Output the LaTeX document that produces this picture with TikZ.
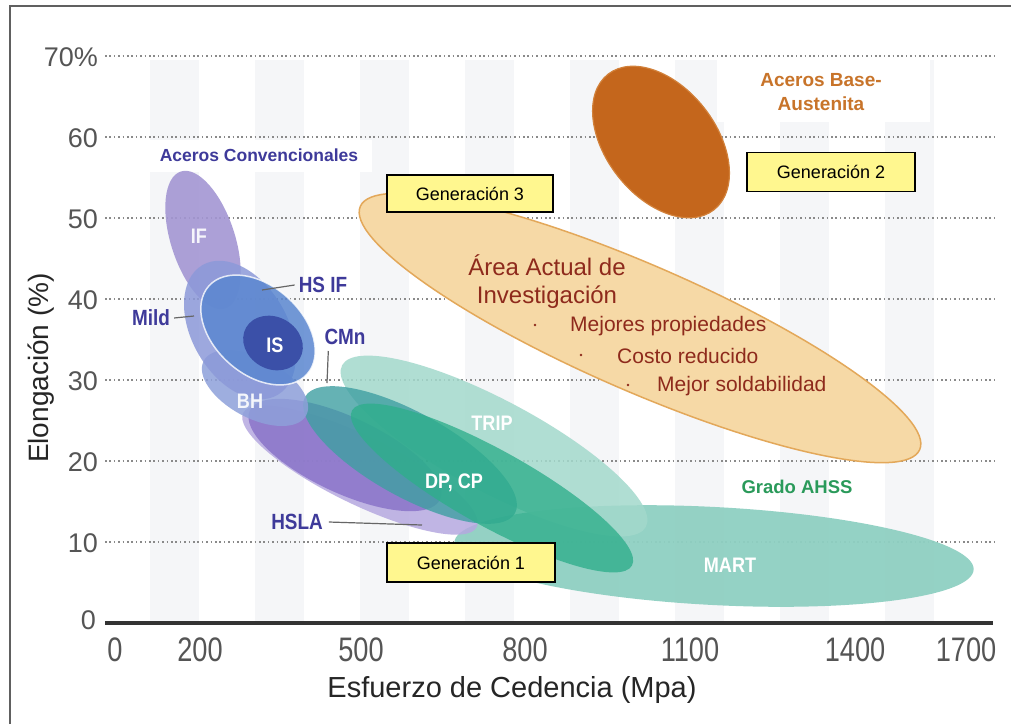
\documentclass[tikz,border=0pt]{standalone}
\usepackage{fontspec}
\setmainfont{Liberation Sans}
\newfontfamily\condf[FakeStretch=0.86]{Liberation Sans}
\newfontfamily\xtickf[FakeStretch=0.8]{Liberation Sans}
\definecolor{stripec}{HTML}{F5F6F8}
\definecolor{gridc}{HTML}{8A8A8A}
\definecolor{tickc}{HTML}{555555}
\definecolor{tanfill}{HTML}{F6D9A6}
\definecolor{tanline}{HTML}{E3A85A}
\definecolor{brownfill}{HTML}{C4661C}
\definecolor{brownline}{HTML}{D2813A}
\definecolor{martc}{HTML}{8FD0C2}
\definecolor{tripc}{HTML}{A3D9CC}
\definecolor{cpc}{HTML}{2EAE8B}
\definecolor{dpc}{HTML}{3F9FA2}
\definecolor{hslac}{HTML}{8A74C9}
\definecolor{cmnc}{HTML}{B6A9E0}
\definecolor{ifc}{HTML}{A396D3}
\definecolor{mildc}{HTML}{8C99D9}
\definecolor{bhc}{HTML}{8EA0DA}
\definecolor{hsifc}{HTML}{5B87D0}
\definecolor{isc}{HTML}{3B50A8}
\definecolor{labblue}{HTML}{3E3A9A}
\definecolor{redtext}{HTML}{8E2A1C}
\definecolor{orangetext}{HTML}{C8742A}
\definecolor{greentext}{HTML}{2A9A5A}
\definecolor{genyellow}{HTML}{FFF78F}
\newcommand\myell[6]{\fill[#1, rotate around={#6:(#2,#3)}] (#2,#3) ellipse ({#4pt} and {#5pt});}
\tikzset{
  gridline/.style={gridc, line width=1.6pt, dash pattern=on 1.6pt off 2.8pt},
  ytick/.style={anchor=east, text=tickc, font=\fontsize{27}{30}\selectfont, inner sep=0pt},
  xtick/.style={text=tickc, font=\xtickf\fontsize{34}{38}\selectfont, inner sep=0pt},
  genbox/.style={draw=black, line width=1.5pt, fill=genyellow, inner sep=0pt, font=\fontsize{18}{22}\selectfont},
  bluelab/.style={text=labblue, font=\condf\bfseries\fontsize{22}{26}\selectfont, inner sep=0pt},
  whitelab/.style={text=white, font=\condf\bfseries\fontsize{21}{25}\selectfont, inner sep=0pt},
  leader/.style={draw=gray!80!black, line width=1.2pt},
  areatext/.style={text=redtext, inner sep=0pt, anchor=west, font=\fontsize{21}{25}\selectfont}
}
\begin{document}
\begin{tikzpicture}[x=1pt,y=-1pt]
\useasboundingbox (0,0) rectangle (1011,724);
\fill[white] (0,0) rectangle (1011,724);
\draw[gray!75!black, line width=1.5pt] (10,724) -- (10,6) -- (1011,6);
% stripes
\foreach \sx in {150,255,360,465,570,675,780,885}
  \fill[stripec] (\sx,60) rectangle ++(49,561);
\fill[white] (105,140) rectangle (372,172);
\fill[white] (717,60) rectangle (930,122);
% grid lines
\foreach \v in {1,...,7}
  \draw[gridline] (105,{623-81*\v}) -- (995,{623-81*\v});
% y ticks
\node[ytick] (y70) at (98,57) {70\%};
\node[ytick] (y60) at (98,138) {60};
\node[ytick] (y50) at (98,219) {50};
\node[ytick] (y40) at (98,300) {40};
\node[ytick] (y30) at (98,381) {30};
\node[ytick] (y20) at (98,462) {20};
\node[ytick] (y10) at (98,543) {10};
\node[ytick] (y0) at (96,620) {0};
% x axis
\draw[black!80, line width=3.5pt] (105,623) -- (993,623);
\node[xtick] (x0) at (115,650) {0};
\node[xtick] (x200) at (200,650) {200};
\node[xtick] (x500) at (361,650) {500};
\node[xtick] (x800) at (525,650) {800};
\node[xtick] (x1100) at (690,650) {1100};
\node[xtick] (x1400) at (855,650) {1400};
\node[xtick] (x1700) at (966,650) {1700};
\node[text=black!85, font=\fontsize{29}{32}\selectfont] (xlab) at (512,690) {Esfuerzo de Cedencia (Mpa)};
\node[text=black!85, font=\fontsize{28}{32}\selectfont, rotate=90] (ylab) at (41,368) {Elongación (\%)};
% tan and brown
\fill[tanfill, draw=tanline, line width=1.5pt, rotate around={-23.5:(640,328)}] (640,328) ellipse (305pt and 63pt);
\fill[brownfill, draw=brownline, line width=1.2pt, rotate around={-52:(661,142)}] (661,142) ellipse (86pt and 55pt);
% AHSS ellipses
\myell{martc, opacity=0.95}{714}{556}{260}{49}{-3}
\myell{tripc, opacity=0.85}{494}{446}{172}{46}{-28}
% conventional
\myell{cmnc, opacity=0.85}{360}{470}{130}{34}{-26}
\myell{hslac, opacity=0.85}{345}{455}{105}{38}{-25}
\myell{dpc, opacity=0.8}{410}{455}{120}{42}{-29}
\myell{cpc, opacity=0.78}{492}{488}{160}{38}{-29}
\myell{ifc, opacity=0.9}{203}{240}{72}{32}{-72}
\myell{bhc, opacity=0.85}{255}{388}{58}{30}{-28}
\myell{mildc, opacity=0.85}{240}{330}{75}{48}{-60}
\fill[hsifc, opacity=0.85, rotate around={-42:(258,330)}] (258,330) ellipse (66pt and 44pt);
\draw[white, opacity=0.8, line width=1.5pt, rotate around={-42:(258,330)}] (258,330) ellipse (66pt and 44pt);
\myell{isc}{273}{343}{31}{26}{-30}
% labels on shapes
\node[whitelab, text=white!90!ifc] (lif) at (199,236) {IF};
\node[whitelab] (lis) at (275,345) {IS};
\node[whitelab, text=white!90!bhc] (lbh) at (250,401) {BH};
\node[whitelab] (ltrip) at (492,423) {TRIP};
\node[whitelab] (ldp) at (454,483) {DP, CP};
\node[whitelab] (lmart) at (730,565) {MART};
\node[bluelab] (lhsif) at (323,285) {HS IF};
\node[bluelab] (lmild) at (151,318) {Mild};
\node[bluelab] (lcmn) at (345,337) {CMn};
\node[bluelab] (lhsla) at (297,522) {HSLA};
\coordinate (ehsif) at (262,290);
\coordinate (emild) at (194,316);
\coordinate (ecmn) at (327,383);
\coordinate (ehsla) at (422,525);
\draw[leader] ([xshift=-4pt]lhsif.west) -- (ehsif);
\draw[leader] ([xshift=4pt]lmild.east) -- (emild);
\draw[leader] ([xshift=4pt,yshift=-6pt]lcmn.south west) -- (ecmn);
\draw[leader] ([xshift=6pt]lhsla.east) -- (ehsla);
% group labels
\node[text=labblue, font=\bfseries\fontsize{17.5}{20}\selectfont, inner sep=0pt] (conv) at (259,155) {Aceros Convencionales};
\node[text=orangetext, font=\bfseries\fontsize{19}{24}\selectfont, align=center, inner sep=0pt] (aust) at (821,92) {Aceros Base-\\Austenita};
\node[text=greentext, font=\bfseries\fontsize{18.5}{22}\selectfont, inner sep=0pt] (ahss) at (797,487) {Grado AHSS};
% area text
\node[text=redtext, font=\fontsize{24}{28}\selectfont, align=center, inner sep=0pt] (area) at (547,282) {Área Actual de\\Investigación};
\node[areatext] (b1) at (570,326) {Mejores propiedades};
\node[areatext] (b2) at (617,356) {Costo reducido};
\node[areatext] (b3) at (657,386) {Mejor soldabilidad};
\fill[redtext] (535,325) circle (1.3pt);
\fill[redtext] (581,355) circle (1.3pt);
\fill[redtext] (628,385) circle (1.3pt);
% generation boxes
\node[genbox, minimum width=166pt, minimum height=37pt] (g3) at (470,193.5) {Generación 3};
\node[genbox, minimum width=168pt, minimum height=39pt] (g2) at (831,172) {Generación 2};
\node[genbox, minimum width=168pt, minimum height=39pt] (g1) at (471,562.5) {Generación 1};
\end{tikzpicture}
\end{document}
